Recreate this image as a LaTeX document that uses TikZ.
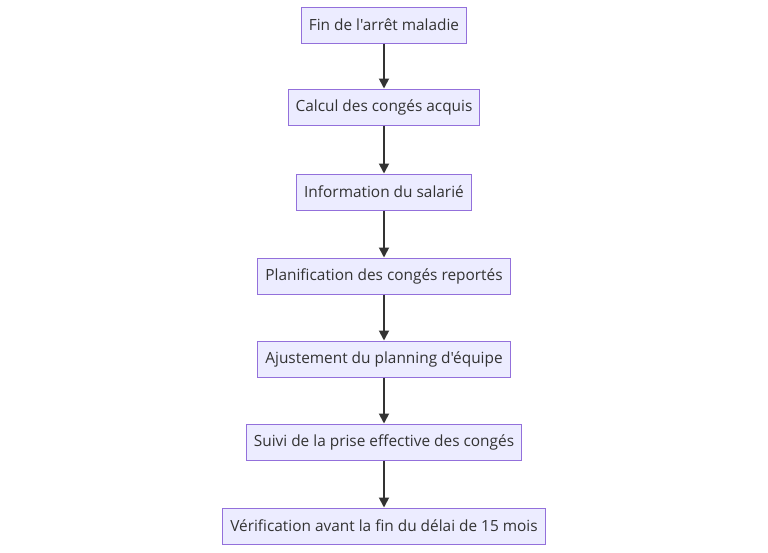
\documentclass[tikz,border=0pt]{standalone}
\usepackage{fontspec}
\setmainfont{Open Sans}[Ligatures=TeXOff]
\usetikzlibrary{arrows.meta}
\definecolor{nodefill}{HTML}{ECECFF}
\definecolor{nodeedge}{HTML}{9370DB}
\definecolor{txt}{HTML}{333333}
\begin{document}
\begin{tikzpicture}[x=1pt,y=-1pt,
  stepbox/.style={draw=nodeedge,fill=nodefill,line width=1pt,text=txt,
    font=\fontsize{15.4}{17}\selectfont,inner xsep=7.5pt,inner ysep=0pt,
    minimum height=36pt,anchor=center},
  flow/.style={draw=txt,line width=1.8pt,-{Triangle[length=10pt,width=10pt]}}]
\useasboundingbox (0,0) rectangle (768,552);
\node[stepbox] (n1) at (384,25) {Fin de l'arrêt maladie};
\node[stepbox] (n2) at (384,107) {Calcul des congés acquis};
\node[stepbox] (n3) at (384,192) {Information du salarié};
\node[stepbox] (n4) at (384,276) {Planification des congés reportés};
\node[stepbox] (n5) at (384,359) {Ajustement du planning d'équipe};
\node[stepbox] (n6) at (384,442) {Suivi de la prise effective des congés};
\node[stepbox] (n7) at (384,526) {Vérification avant la fin du délai de 15 mois};
\draw[flow] (n1) -- (n2);
\draw[flow] (n2) -- (n3);
\draw[flow] (n3) -- (n4);
\draw[flow] (n4) -- (n5);
\draw[flow] (n5) -- (n6);
\draw[flow] (n6) -- (n7);
\end{tikzpicture}
\end{document}
